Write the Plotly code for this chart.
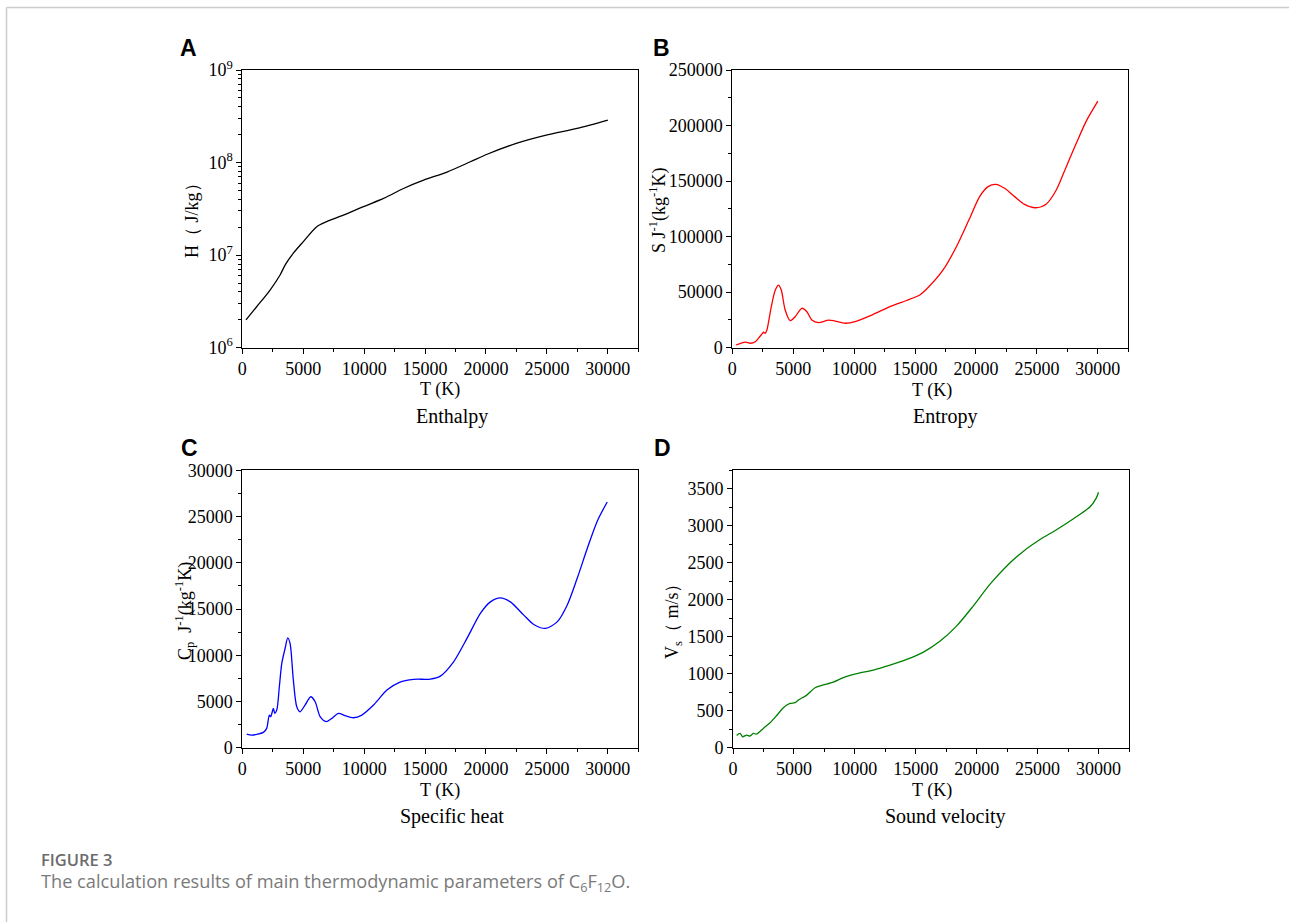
import plotly.graph_objects as go

W, H = 1289, 922

# ---------------- data ----------------
A_T = [300, 1180, 2280, 3100, 3510, 4190, 5010, 6110, 6930, 8300, 9950, 11590, 13230,
       14880, 16800, 18720, 20090, 22550, 25020, 27480, 30000]
A_H = [2.0e6, 2.77e6, 4.2e6, 6.1e6, 7.8e6, 1.05e7, 1.4e7, 2.03e7, 2.3e7, 2.7e7, 3.34e7,
       4.1e7, 5.25e7, 6.45e7, 7.9e7, 1.02e8, 1.23e8, 1.62e8, 1.99e8, 2.34e8, 2.88e8]

B_T = [300, 1070, 1480, 1890, 2300, 2570, 2700, 2840, 3200, 3530, 3800, 4020, 4340, 4750,
       5160, 5710, 6120, 6530, 7080, 7900, 8440, 9260, 10080, 11450, 13030, 14290, 15390,
       15930, 17300, 18390, 19480, 20300, 20990, 21620, 22350, 23170, 23990, 24890, 25770,
       26590, 27410, 28230, 29050, 30000]
B_S = [2430, 5100, 4000, 5400, 10500, 13900, 12900, 15900, 36900, 51900, 56400, 51900,
       33900, 24300, 27900, 35500, 32400, 24900, 22500, 24900, 24000, 22000, 23400, 29400,
       37500, 42500, 47500, 52600, 70000, 90900, 116500, 136000, 145000, 147100, 143500,
       136000, 129000, 126000, 129400, 142000, 163000, 184000, 204000, 222000]

C_T = [360, 770, 1730, 2000, 2220, 2330, 2550, 2660, 2830, 3040, 3240, 3510, 3730, 3920,
       4190, 4470, 4740, 5150, 5620, 5980, 6390, 6880, 7350, 7890, 8440, 9120, 9810, 10770,
       11870, 12900, 14060, 15430, 16250, 17340, 18440, 19540, 20360, 21180, 22000, 23100,
       23920, 24880, 25840, 26660, 27480, 28310, 29130, 29950]
C_Cp = [1480, 1370, 1660, 2090, 3530, 3350, 4250, 3720, 4070, 6590, 9110, 10730, 11880,
        11280, 7310, 4430, 3890, 4610, 5510, 4970, 3350, 2810, 3175, 3715, 3460, 3240, 3530,
        4610, 6230, 7065, 7390, 7420, 7745, 9290, 11820, 14520, 15770, 16200, 15770, 14335,
        13330, 12900, 13610, 15415, 18300, 21540, 24500, 26575]

D_T = [300, 575, 790, 1120, 1395, 1670, 1940, 2490, 3040, 3590, 4130, 4680, 5090, 5370,
       6050, 6730, 7280, 8240, 9060, 10160, 11520, 12890, 14260, 15630, 17000, 18340,
       19710, 21080, 22450, 23840, 25200, 26580, 27940, 29310, 29800, 30000]
D_V = [166, 193, 148, 171, 157, 193, 184, 261, 337, 436, 540, 598, 608, 645, 711, 810,
       842, 887, 946, 1000, 1049, 1116, 1193, 1292, 1441, 1643, 1914, 2207, 2454, 2657,
       2815, 2950, 3095, 3257, 3370, 3454]

LOG_TICKS = [1e6, 1e7, 1e8, 1e9]
LOG_TICKTEXT = ["10<sup>6</sup>", "10<sup>7</sup>", "10<sup>8</sup>", "10<sup>9</sup>"]

# ---------------- helpers ----------------
def px(x):
    return x / W

def py(y):
    return 1 - y / H

SERIF = "Liberation Serif, Times New Roman, serif"
SANS = "Liberation Sans, Arial, sans-serif"
CAP = "Open Sans, Lato, sans-serif"

fig = go.Figure()

line_kw = dict(mode="lines", showlegend=False, hoverinfo="skip")
fig.add_trace(go.Scatter(x=A_T, y=A_H, line=dict(color="black", width=1.3, shape="spline", smoothing=0.8),
                         xaxis="x", yaxis="y", **line_kw))
fig.add_trace(go.Scatter(x=B_T, y=B_S, line=dict(color="#ff0000", width=1.3, shape="spline", smoothing=0.8),
                         xaxis="x2", yaxis="y2", **line_kw))
fig.add_trace(go.Scatter(x=C_T, y=C_Cp, line=dict(color="#0000ff", width=1.3, shape="spline", smoothing=0.8),
                         xaxis="x3", yaxis="y3", **line_kw))
fig.add_trace(go.Scatter(x=D_T, y=D_V, line=dict(color="#008000", width=1.3, shape="spline", smoothing=0.8),
                         xaxis="x4", yaxis="y4", **line_kw))

tickfont = dict(family=SERIF, size=18, color="black")

common = dict(showline=True, linecolor="black", linewidth=1, mirror=True,
              ticks="outside", ticklen=5, tickwidth=1, tickcolor="black",
              showgrid=False, zeroline=False, tickfont=tickfont,
              exponentformat="none", separatethousands=False, automargin=False)

def xaxis(dom, anchor):
    return dict(domain=dom, anchor=anchor, range=[0, 32500], dtick=5000, tick0=0,
                tickformat="d",
                minor=dict(ticks="outside", dtick=2500, ticklen=3, tickcolor="black"),
                **common)

def yaxis(dom, anchor, rng, dtick, mdtick):
    return dict(domain=dom, anchor=anchor, range=rng, dtick=dtick, tick0=0,
                tickformat="d",
                minor=dict(ticks="outside", dtick=mdtick, ticklen=3, tickcolor="black"),
                **common)

xA = [px(242.3), px(638.3)]
xB = [px(732.3), px(1128.3)]
xC = [px(242.3), px(638.3)]
xD = [px(733), px(1129)]
yTop = [py(347.7), py(70)]
yBot = [py(747.7), py(470.3)]

yA = dict(domain=yTop, anchor="x", type="log", range=[6, 9],
          tickvals=LOG_TICKS, ticktext=LOG_TICKTEXT,
          minor=dict(ticks="outside", dtick="D1", ticklen=3, tickcolor="black"),
          **common)

fig.update_layout(
    width=W, height=H, autosize=False,
    margin=dict(l=0, r=0, t=0, b=0, pad=0),
    paper_bgcolor="white", plot_bgcolor="white",
    xaxis=xaxis(xA, "y"),
    yaxis=yA,
    xaxis2=xaxis(xB, "y2"),
    yaxis2=yaxis(yTop, "x2", [0, 250000], 50000, 25000),
    xaxis3=xaxis(xC, "y3"),
    yaxis3=yaxis(yBot, "x3", [0, 30000], 5000, 2500),
    xaxis4=xaxis(xD, "y4"),
    yaxis4=yaxis(yBot, "x4", [0, 3750], 500, 250),
)

anns = []

def ann(text, x, y, size, family=SERIF, angle=0, color="black", xanchor="center", yanchor="middle", weight=None):
    font = dict(family=family, size=size, color=color)
    if weight:
        font["weight"] = weight
    anns.append(dict(text=text, x=px(x), y=py(y), xref="paper", yref="paper",
                     showarrow=False, textangle=angle, xanchor=xanchor, yanchor=yanchor,
                     font=font))

# panel letters
ann("<b>A</b>", 188, 48, 23, SANS)
ann("<b>B</b>", 661, 48, 23, SANS)
ann("<b>C</b>", 189, 448, 23, SANS)
ann("<b>D</b>", 662, 448, 23, SANS)

# x titles
ann("T (K)", 440, 389, 18)
ann("T (K)", 932, 390, 18)
ann("T (K)", 440, 790, 18)
ann("T (K)", 932, 790, 18)

# subtitles
ann("Enthalpy", 452, 416, 20)
ann("Entropy", 945, 416, 20)
ann("Specific heat", 452, 816, 20)
ann("Sound velocity", 945, 816, 20)

# y titles
ann("H（ J/kg）", 192, 216, 18, angle=-90)
ann("S J<sup>-1</sup>(kg<sup>-1</sup>K)", 658, 210, 18, angle=-90)
ann("C<sub>p</sub>  J<sup>-1</sup>(kg<sup>-1</sup>K)", 184, 611, 18, angle=-90)
ann("V<sub>s</sub>（ m/s）", 673, 617, 18, angle=-90)

# caption
ann("FIGURE 3", 39, 859, 16.5, CAP, color="#6b6b6b", xanchor="left", weight=600)
ann("The calculation results of main thermodynamic parameters of C<sub>6</sub>F<sub>12</sub>O.",
    39, 882, 18.2, CAP, color="#7a7a7a", xanchor="left")

fig.update_layout(annotations=anns)

# page frame lines (top and left)
fig.add_shape(type="line", xref="paper", yref="paper", x0=px(6.5), x1=1.0, y0=py(7.5), y1=py(7.5),
              line=dict(color="#cccccc", width=1.5))
fig.add_shape(type="line", xref="paper", yref="paper", x0=px(6.5), x1=px(6.5), y0=py(7.5), y1=0.0,
              line=dict(color="#cccccc", width=1.5))

fig.write_html("out.html", config={"displayModeBar": False},
               post_script="document.body.style.margin='0px';")
